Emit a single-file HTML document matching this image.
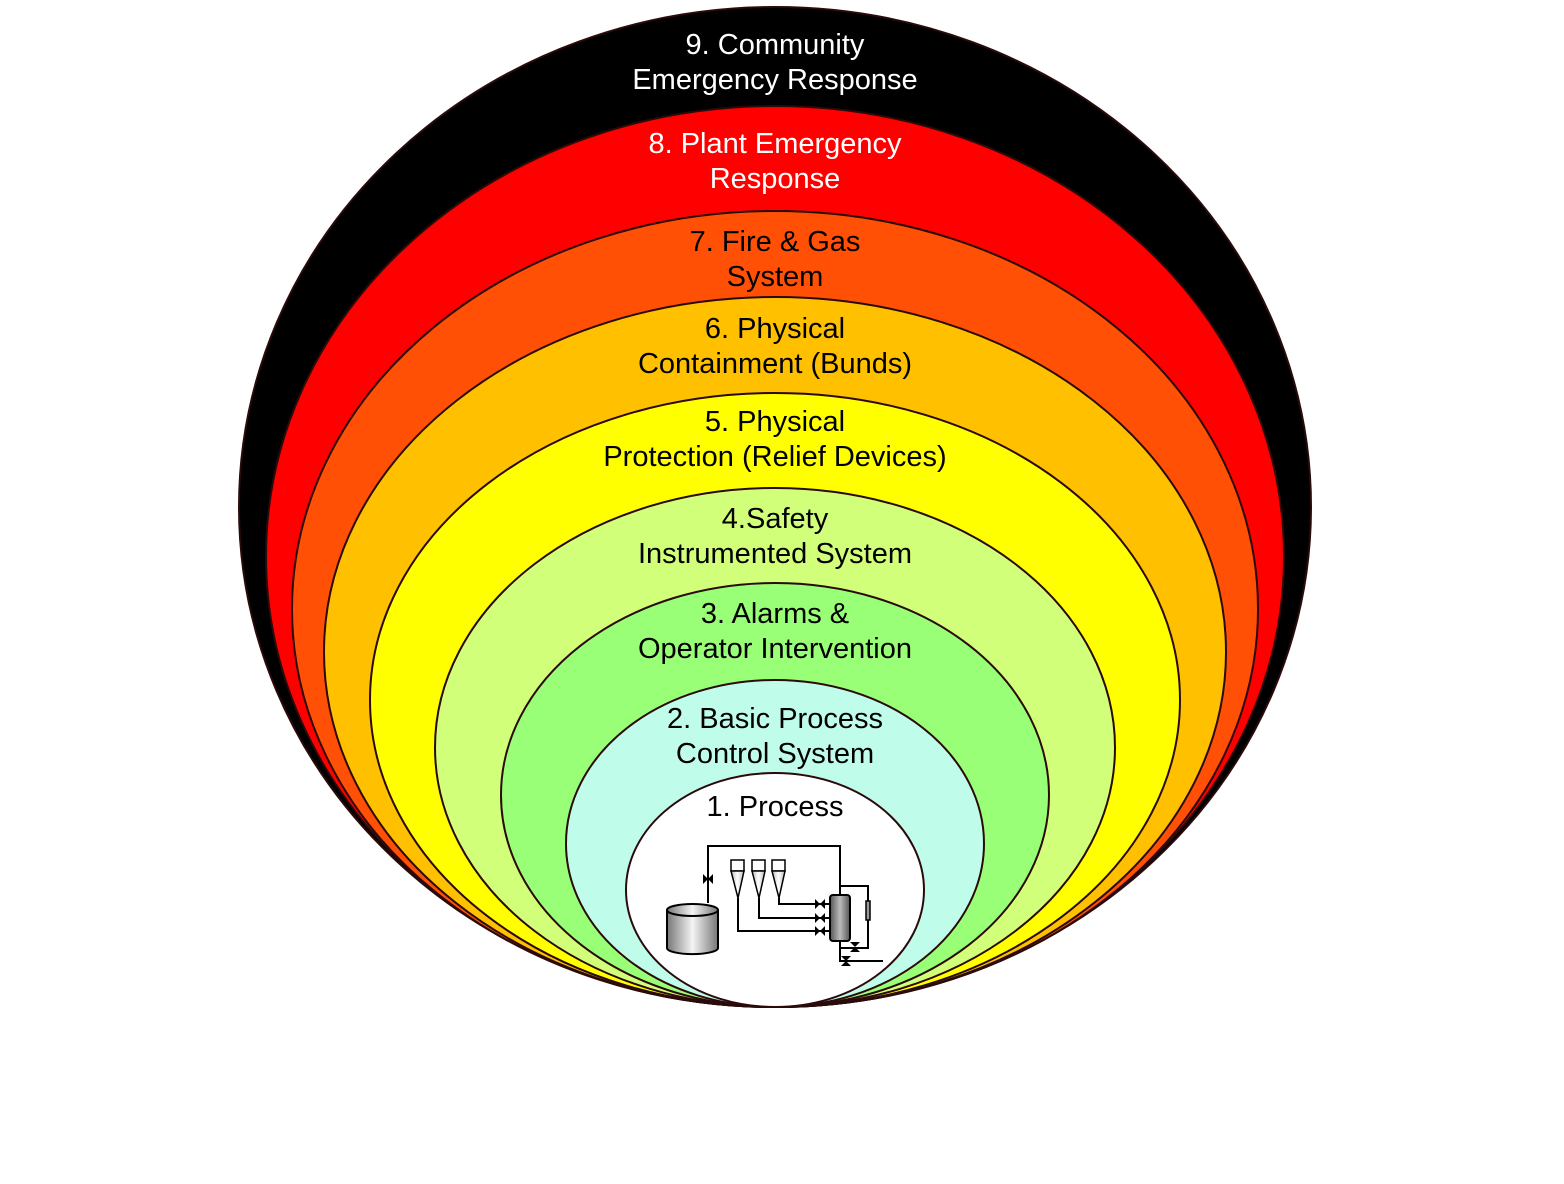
<!DOCTYPE html>
<html><head><meta charset="utf-8"><style>
html,body{margin:0;padding:0;background:#fff;}
svg{display:block;}
text{font-family:"Liberation Sans",Arial,sans-serif;font-size:29px;text-anchor:middle;}
</style></head><body>
<svg width="1564" height="1184" viewBox="0 0 1564 1184" xmlns="http://www.w3.org/2000/svg">
<defs>
<linearGradient id="cyl" x1="0" x2="1" y1="0" y2="0">
<stop offset="0" stop-color="#777"/><stop offset="0.5" stop-color="#f4f4f4"/><stop offset="1" stop-color="#777"/></linearGradient>
<linearGradient id="ves" x1="0" x2="1" y1="0" y2="0">
<stop offset="0" stop-color="#555"/><stop offset="0.5" stop-color="#bbb"/><stop offset="1" stop-color="#555"/></linearGradient>
<linearGradient id="cone" x1="0" x2="1"><stop offset="0" stop-color="#bbb"/><stop offset="0.5" stop-color="#fff"/><stop offset="1" stop-color="#bbb"/></linearGradient>
</defs>
<g stroke="#2a0a0a" stroke-width="2">
<ellipse cx="775" cy="507" rx="536" ry="500" fill="#000"/>
<ellipse cx="775" cy="556.5" rx="509" ry="450.5" fill="#ff0000"/>
<ellipse cx="775" cy="609" rx="483" ry="398" fill="#ff5005"/>
<ellipse cx="775" cy="652" rx="451" ry="355" fill="#ffc000"/>
<ellipse cx="775" cy="700" rx="405" ry="307" fill="#ffff00"/>
<ellipse cx="775" cy="747.5" rx="340" ry="259.5" fill="#d2ff7a"/>
<ellipse cx="775" cy="795" rx="274" ry="212" fill="#99ff77"/>
<ellipse cx="775" cy="843.5" rx="209" ry="163.5" fill="#c0fcea"/>
<ellipse cx="775" cy="890" rx="149" ry="117" fill="#fff"/>
</g>
<g fill="#fff">
<text x="775" y="54">9. Community</text><text x="775" y="89">Emergency Response</text>
<text x="775" y="153">8. Plant Emergency</text><text x="775" y="188">Response</text>
</g>
<g fill="#000">
<text x="775" y="251">7. Fire &amp; Gas</text><text x="775" y="286">System</text>
<text x="775" y="338">6. Physical</text><text x="775" y="373">Containment (Bunds)</text>
<text x="775" y="431">5. Physical</text><text x="775" y="466">Protection (Relief Devices)</text>
<text x="775" y="528">4.Safety</text><text x="775" y="563">Instrumented System</text>
<text x="775" y="623">3. Alarms &amp;</text><text x="775" y="658">Operator Intervention</text>
<text x="775" y="728">2. Basic Process</text><text x="775" y="763">Control System</text>
<text x="775" y="816">1. Process</text>
</g>
<g stroke="#000" stroke-width="2" fill="none">
<polyline points="708,903 708,846 840,846 840,895"/>
<polyline points="738,898 738,931 830,931"/>
<polyline points="759,898 759,918 830,918"/>
<polyline points="779,898 779,904 830,904"/>
<polyline points="840,886 868,886 868,948 840,948"/>
<polyline points="840,940 840,961 883,961"/>
</g>
<g stroke="#000" stroke-width="1.5">
<rect x="731" y="860" width="13" height="11" fill="#fff"/>
<rect x="752" y="860" width="13" height="11" fill="#fff"/>
<rect x="772" y="860" width="13" height="11" fill="#fff"/>
<polygon points="731,871 744,871 738,898" fill="url(#cone)"/>
<polygon points="752,871 765,871 759,898" fill="url(#cone)"/>
<polygon points="772,871 785,871 779,898" fill="url(#cone)"/>
<path d="M667,910 L667,948 A25,6 0 0 0 718,948 L718,910" fill="url(#cyl)" stroke-width="2"/>
<ellipse cx="692.5" cy="910" rx="25.5" ry="6" fill="url(#cyl)" stroke-width="2"/>
<rect x="830" y="895" width="20" height="46" rx="3" fill="url(#ves)" stroke-width="2"/>
<rect x="866" y="901" width="4" height="19" fill="#999"/>
</g>
<g fill="#000">
<path d="M815,899 l10,10 v-10 l-10,10z"/>
<path d="M815,913 l10,10 v-10 l-10,10z"/>
<path d="M815,926 l10,10 v-10 l-10,10z"/>
<path d="M850,942 l10,10 h-10 l10,-10z"/>
<path d="M841,956 l10,10 h-10 l10,-10z"/>
<path d="M703,874 l10,10 v-10 l-10,10z"/>
</g>
</svg>
</body></html>
